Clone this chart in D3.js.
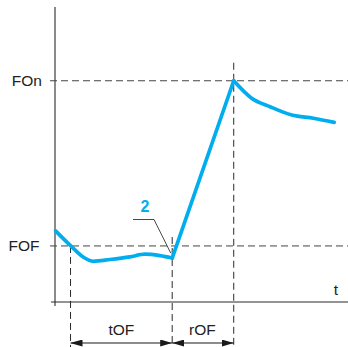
<!DOCTYPE html>
<html>
<head>
<meta charset="utf-8">
<script src="https://cdn.jsdelivr.net/npm/d3@7"></script>
<style>
  html, body { margin: 0; padding: 0; background: #fff; }
  svg { display: block; }
  text { font-family: "Liberation Sans", Arial, sans-serif; }
</style>
</head>
<body>
<svg id="chart" width="348" height="347"></svg>
<script>
// ---- data (schematic units) ----
const levelLabels = ["FOF", "FOn"];
const levelValues = [19, 75];
const intervalLabels = ["tOF", "rOF"];
const markTimes = [5.3, 40, 61];           // start of tOF, end of tOF / start rOF, end rOF
const settleTimes = [0.2, 5.3, 10, 13, 18.8, 25.6, 30.7, 35.8, 40];
const settleValues = [24.1, 19.1, 15.0, 13.8, 14.4, 15.3, 16.2, 15.7, 14.9];
const rampTimes = [40, 61];
const rampValues = [14.9, 75];
const decayTimes = [61, 67.1, 73.4, 80.8, 88.2, 95.3];
const decayValues = [75, 69.1, 66.2, 63.4, 62.3, 60.9];
const axisLabel = "t";
const noteLabel = "2";

const svg = d3.select("#chart");
const x = d3.scaleLinear().domain([0, 100]).range([55, 348]);
const y = d3.scaleLinear().domain([0, 100]).range([302, 7]);

const ink = "#2b2b2b";
const dashInk = "#444";
const blue = "#00aeef";

// axes
svg.append("line").attr("x1", x(0)).attr("x2", x(0)).attr("y1", y(100)).attr("y2", y(0) + 4)
  .attr("stroke", ink).attr("stroke-width", 1.1);
svg.append("line").attr("x1", x(0) - 4).attr("x2", x(100)).attr("y1", y(0)).attr("y2", y(0))
  .attr("stroke", ink).attr("stroke-width", 1.1);

// horizontal level lines
levelValues.forEach((v, i) => {
  svg.append("line").attr("x1", x(0) - 5).attr("x2", x(100)).attr("y1", y(v)).attr("y2", y(v))
    .attr("stroke", dashInk).attr("stroke-width", 1).attr("stroke-dasharray", "7,4");
  svg.append("text").attr("x", i === 0 ? 39.5 : 42).attr("y", y(v) + 5.5)
    .attr("text-anchor", "end").attr("font-size", 15.5).attr("fill", "#222").text(levelLabels[i]);
});

// vertical dashed markers
const vTops = [y(levelValues[0]), y(settleValues[settleValues.length - 1]) - 21, y(levelValues[1]) - 18];
markTimes.forEach((t, i) => {
  svg.append("line").attr("x1", x(t)).attr("x2", x(t)).attr("y1", vTops[i]).attr("y2", 347)
    .attr("stroke", ink).attr("stroke-width", 1).attr("stroke-dasharray", "7,4");
});

// arrow markers
const defs = svg.append("defs");
defs.append("marker").attr("id", "ah").attr("markerUnits", "userSpaceOnUse")
  .attr("viewBox", "0 0 12 7").attr("refX", 12).attr("refY", 3.5)
  .attr("markerWidth", 12).attr("markerHeight", 7).attr("orient", "auto-start-reverse")
  .append("path").attr("d", "M0,0 L12,3.5 L0,7 Z").attr("fill", "#1a1a1a");

const arrowY = 343;
for (let i = 0; i < 2; i++) {
  svg.append("line").attr("x1", x(markTimes[i])).attr("x2", x(markTimes[i + 1]))
    .attr("y1", arrowY).attr("y2", arrowY).attr("stroke", "#1a1a1a").attr("stroke-width", 1.2)
    .attr("marker-start", "url(#ah)").attr("marker-end", "url(#ah)");
  svg.append("text").attr("x", (x(markTimes[i]) + x(markTimes[i + 1])) / 2 + (i === 1 ? -0.5 : 0))
    .attr("y", 335).attr("text-anchor", "middle").attr("font-size", 15.5).attr("fill", "#222")
    .text(intervalLabels[i]);
}

// curve
const smooth = d3.line().x(d => x(d[0])).y(d => y(d[1])).curve(d3.curveMonotoneX);
const straight = d3.line().x(d => x(d[0])).y(d => y(d[1]));
const seg = (ts, vs) => ts.map((t, i) => [t, vs[i]]);
[[smooth, seg(settleTimes, settleValues)], [straight, seg(rampTimes, rampValues)], [smooth, seg(decayTimes, decayValues)]]
  .forEach(([gen, pts]) => {
    svg.append("path").attr("d", gen(pts)).attr("fill", "none").attr("stroke", blue)
      .attr("stroke-width", 3.7).attr("stroke-linejoin", "round").attr("stroke-linecap", "round");
  });

// leader to the note
const tipX = x(markTimes[1]) - 1.5, tipY = y(settleValues[settleValues.length - 1]) - 5;
svg.append("path").attr("d", `M133,219.5 L154,219.5 L${tipX},${tipY}`)
  .attr("fill", "none").attr("stroke", "#333").attr("stroke-width", 0.9);
svg.append("text").attr("x", 145).attr("y", 211.5).attr("text-anchor", "middle")
  .attr("font-size", 16).attr("font-weight", "bold").attr("fill", blue).text(noteLabel);

// axis label
svg.append("text").attr("x", 336).attr("y", 295).attr("text-anchor", "middle")
  .attr("font-size", 15.5).attr("fill", "#222").text(axisLabel);
</script>
</body>
</html>
